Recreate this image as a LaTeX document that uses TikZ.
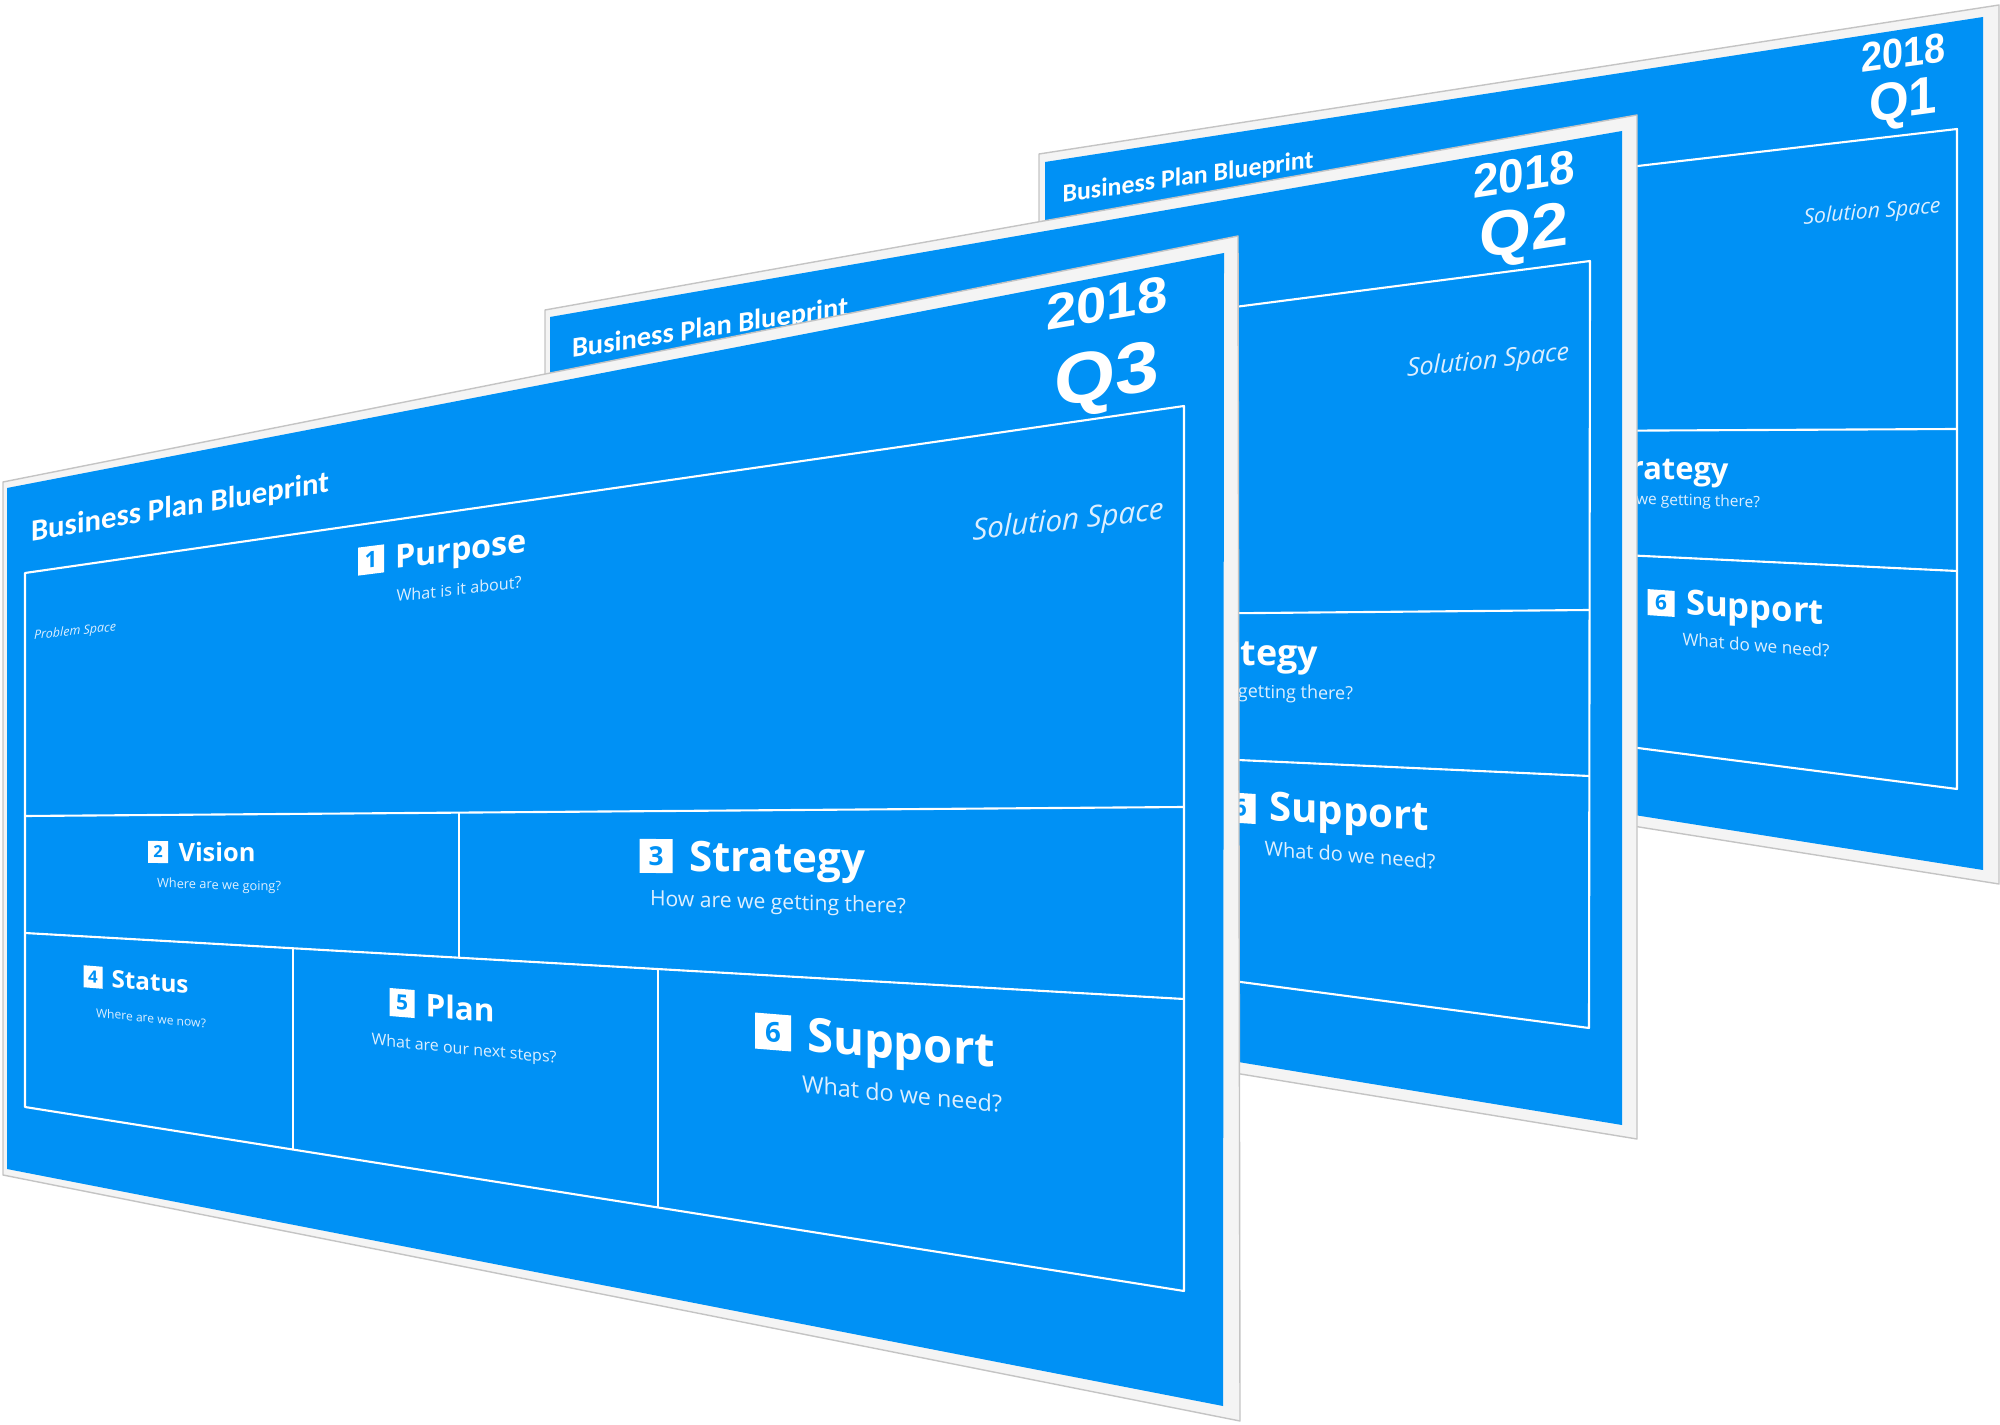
\documentclass[tikz,border=0pt]{standalone}
\usepackage{fontspec}
\usepackage{graphicx}
\setmainfont{Open Sans}
\newfontfamily\titlefont{Carlito}
\newfontfamily\yearfont{Liberation Sans}
\usetikzlibrary{calc}
\definecolor{bpblue}{HTML}{0091F5}
\definecolor{bpframe}{HTML}{F4F4F4}
\definecolor{bpedge}{HTML}{C4C4C4}
\definecolor{bpsoft}{HTML}{DDEFFF}
\newlength{\pxu}\setlength{\pxu}{0.01cm}
\newcommand{\fitw}[2]{\resizebox{#1\pxu}{!}{#2}}
\newcommand{\fitwh}[3]{\resizebox{#1\pxu}{#2\pxu}{#3}}
\tikzset{
  frame/.style ={fill=bpframe, draw=bpedge, line width=0.4pt, line join=round},
  slide/.style ={fill=bpblue},
  rule/.style  ={draw=white, line width=0.6pt, line join=round},
  ttl/.style   ={text=white, inner sep=0pt, font=\titlefont\bfseries},
  yr/.style    ={text=white, inner sep=0pt, align=center,
                 font=\yearfont\bfseries\fontsize{2pt}{2pt}\selectfont},
  head/.style  ={text=white, inner sep=0pt, font=\bfseries},
  sub/.style   ={text=bpsoft, inner sep=0pt},
  space/.style ={text=bpsoft, inner sep=0pt, font=\itshape},
  numbox/.style={fill=white, text=bpblue, inner sep=0pt, font=\bfseries},
}

\begin{document}
\begin{tikzpicture}[x=0.01cm, y=-0.01cm]
  \useasboundingbox (0,0) rectangle (2000,1425);

  % Q1, the slide at the back
  \draw[frame] (1039,154) -- (1999,5) -- (1999,884) -- (1039,732) -- cycle;
  \fill[slide] (1045,162) -- (1983,17) -- (1983,870) -- (1045,722) -- cycle;
  \draw[rule] (1560,175) -- (1957,129) -- (1957,789) -- (1560,738);
  \draw[rule] (1560,431) -- (1957,429);
  \draw[rule] (1560,552) -- (1957,571);
  \node[ttl, yslant=0.137] (q1title) at (1188,178) {\fitw{251}{Business Plan Blueprint}};
  \node[yr, yslant=0.137] (q1tag) at (1903,83) {\fitwh{84}{29}{2018}\\[9.5\pxu]\fitwh{68}{37}{Q1}};
  \node[space, yslant=0.086] (q1sol) at (1872,213) {\fitw{137}{Solution Space}};
  \node[head, yslant=-0.014] (q1h3) at (1664,472) {\fitw{129}{Strategy}};
  \node[sub, yslant=-0.026] (q1s3) at (1666,501) {\fitw{188}{How are we getting there?}};
  \node[numbox, minimum width=27\pxu, minimum height=26\pxu, yslant=-0.068] (q1n6) at (1661,603) {\resizebox{!}{15\pxu}{6}};
  \node[head, yslant=-0.068] (q1h6) at (1755,611) {\fitw{138}{Support}};
  \node[sub, yslant=-0.082] (q1s6) at (1756,645) {\fitw{147}{What do we need?}};

  % Q2
  \draw[frame] (545,310) -- (1637,115) -- (1637,1139) -- (545,960) -- cycle;
  \fill[slide] (550,317) -- (1622,131) -- (1622,1125) -- (550,949) -- cycle;
  \draw[rule] (1150,318) -- (1590,261) -- (1589,1028) -- (1150,970);
  \draw[rule] (1150,614) -- (1589,610);
  \draw[rule] (1150,756) -- (1589,776);
  \node[ttl, yslant=0.153] (q2title) at (710,329) {\fitw{276}{Business Plan Blueprint}};
  \node[yr, yslant=0.155] (q2tag) at (1524,211) {\fitwh{102}{33}{2018}\\[13.5\pxu]\fitwh{89}{44}{Q2}};
  \node[space, yslant=0.1] (q2sol) at (1488,362) {\fitw{162}{Solution Space}};
  \node[head, yslant=-0.006] (q2h3) at (1243,657) {\fitw{150}{Strategy}};
  \node[sub, yslant=-0.02] (q2s3) at (1244,693) {\fitw{218}{How are we getting there?}};
  \node[numbox, minimum width=31\pxu, minimum height=30\pxu, yslant=-0.065] (q2n6) at (1240,808) {\resizebox{!}{17\pxu}{6}};
  \node[head, yslant=-0.065] (q2h6) at (1349,816) {\fitw{160}{Support}};
  \node[sub, yslant=-0.08] (q2s6) at (1350,855) {\fitw{171}{What do we need?}};

  % Q3, the slide in front
  \draw[frame] (3,482) -- (1238,236) -- (1240,1421) -- (3,1175) -- cycle;
  \fill[slide] (7,488) -- (1224,253) -- (1223,1406) -- (7,1169) -- cycle;
  \coordinate (l1a) at (25,816);
  \coordinate (l1b) at (1184,807);
  \coordinate (l2a) at (25,933);
  \coordinate (l2b) at (1184,999);
  \coordinate (bota) at (25,1107);
  \coordinate (botb) at (1184,1291);
  \draw[rule] (25,573) -- (1184,406) -- (botb) -- (bota) -- cycle;
  \draw[rule] (l1a) -- (l1b);
  \draw[rule] (l2a) -- (l2b);
  \draw[rule] ($(l1a)!0.3745!(l1b)$) -- ($(l2a)!0.3745!(l2b)$);
  \draw[rule] ($(l2a)!0.2312!(l2b)$) -- ($(bota)!0.2312!(botb)$);
  \draw[rule] ($(l2a)!0.5462!(l2b)$) -- ($(bota)!0.5462!(botb)$);

  \node[ttl, yslant=0.166] (q3title) at (180,508) {\fitw{298}{Business Plan Blueprint}};
  \node[yr, yslant=0.17] (q3tag) at (1107,349) {\fitwh{121}{35}{2018}\\[23.5\pxu]\fitwh{105}{50}{Q3}};
  \node[space, yslant=0.108] (q3prob) at (75,632) {\fitw{82}{Problem Space}};
  \node[space, yslant=0.109] (q3sol) at (1068,522) {\fitw{191}{Solution Space}};

  \node[numbox, minimum width=26\pxu, minimum height=28\pxu, yslant=0.126] (q3n1) at (371,560) {\resizebox{!}{16\pxu}{1}};
  \node[head, yslant=0.125] (q3h1) at (461,553) {\fitw{132}{Purpose}};
  \node[sub, yslant=0.109] (q3s1) at (459,589) {\fitw{125}{What is it about?}};

  \node[numbox, minimum width=20\pxu, minimum height=22\pxu, yslant=-0.013] (q3n2) at (158,852) {\resizebox{!}{12\pxu}{2}};
  \node[head, yslant=-0.013] (q3h2) at (217,852) {\fitw{77}{Vision}};
  \node[sub, yslant=-0.029] (q3s2) at (219,886) {\fitw{124}{Where are we going?}};

  \node[numbox, minimum width=33\pxu, minimum height=34\pxu, yslant=-0.012] (q3n3) at (656,856) {\resizebox{!}{19\pxu}{3}};
  \node[head, yslant=-0.013] (q3h3) at (777,862) {\fitw{176}{Strategy}};
  \node[sub, yslant=-0.03] (q3s3) at (778,904) {\fitw{256}{How are we getting there?}};

  \node[numbox, minimum width=19\pxu, minimum height=22\pxu, yslant=-0.081] (q3n4) at (93,977) {\resizebox{!}{12\pxu}{4}};
  \node[head, yslant=-0.082] (q3h4) at (150,982) {\fitw{77}{Status}};
  \node[sub, yslant=-0.1] (q3s4) at (151,1018) {\fitw{110}{Where are we now?}};

  \node[numbox, minimum width=25\pxu, minimum height=28\pxu, yslant=-0.082] (q3n5) at (402,1003) {\resizebox{!}{15\pxu}{5}};
  \node[head, yslant=-0.082] (q3h5) at (460,1008) {\fitw{69}{Plan}};
  \node[sub, yslant=-0.1] (q3s5) at (464,1050) {\fitw{185}{What are our next steps?}};

  \node[numbox, minimum width=36\pxu, minimum height=36\pxu, yslant=-0.081] (q3n6) at (773,1032) {\resizebox{!}{20\pxu}{6}};
  \node[head, yslant=-0.083] (q3h6) at (901,1048) {\fitw{188}{Support}};
  \node[sub, yslant=-0.1] (q3s6) at (902,1094) {\fitw{200}{What do we need?}};
\end{tikzpicture}
\end{document}
